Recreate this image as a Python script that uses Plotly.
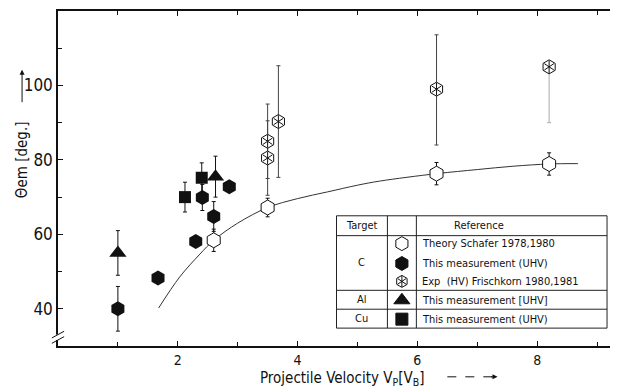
import plotly.graph_objects as go

# ---------------- data ----------------
theory_curve_x = [1.68, 2.03, 2.37, 2.6, 3.0, 3.5, 4.0, 4.5, 5.0, 5.37, 6.32, 7.0, 7.6, 8.2, 8.68]
theory_curve_y = [40.2, 48.5, 54.7, 58.4, 63.0, 67.2, 69.6, 71.4, 73.2, 74.3, 76.3, 77.4, 78.3, 78.9, 79.0]

theory_x = [2.6, 3.5, 6.32, 8.2]
theory_y = [58.4, 67.2, 76.3, 78.9]
theory_err = [3, 2.5, 3, 3]

c_meas_x = [1.0, 1.67, 2.3, 2.41, 2.6, 2.86]
c_meas_y = [40, 48.3, 58.1, 69.9, 64.8, 72.8]
c_meas_err = [6, 0, 0, 3.5, 4, 0]

al_x = [1.0, 2.63]
al_y = [55, 75.5]
al_err = [6, 5.5]

cu_x = [2.12, 2.4]
cu_y = [70, 75.2]
cu_err = [4, 4]

exp_x = [3.5, 3.5, 3.68, 6.32]
exp_y = [80.5, 85, 90.3, 99]
exp_err_plus = [10, 10, 15, 14.6]
exp_err_minus = [10, 10, 15, 15]

exp2_x = [8.2]
exp2_y = [105]
exp2_err_minus = [15]

x_ticks = [2, 4, 6, 8]
x_minor = [1, 3, 5, 7, 9]
y_ticks = [40, 60, 80, 100]
y_minor = [50, 70, 90, 110]

table_targets = ["C", "Al", "Cu"]
table_refs = ["Theory Schafer 1978,1980", "This measurement (UHV)",
              "Exp  (HV) Frischkorn 1980,1981", "This measurement [UHV]",
              "This measurement (UHV)"]

FONT = "DejaVu Sans Condensed, Liberation Sans Narrow, Arial Narrow, DejaVu Sans, sans-serif"
BLACK = "#111111"

fig = go.Figure()

# theory curve
fig.add_trace(go.Scatter(x=theory_curve_x, y=theory_curve_y, mode="lines",
                         line=dict(color="#333333", width=1, shape="spline"),
                         hoverinfo="skip"))

def errbar(plus, minus=None, color=BLACK):
    d = dict(type="data", array=plus, color=color, thickness=1, width=2, visible=True)
    if minus is not None:
        d["symmetric"] = False
        d["arrayminus"] = minus
    return d

# Exp HV points (hexagon with spokes)
fig.add_trace(go.Scatter(x=exp_x, y=exp_y, mode="markers",
                         error_y=errbar(exp_err_plus, exp_err_minus, "#444444"),
                         marker=dict(symbol="hexagon", size=14, color="white",
                                     line=dict(color=BLACK, width=1))))
fig.add_trace(go.Scatter(x=exp2_x, y=exp2_y, mode="markers",
                         error_y=errbar([0], exp2_err_minus, "#aaaaaa"),
                         marker=dict(symbol="hexagon", size=14, color="white",
                                     line=dict(color=BLACK, width=1))))
for sym in ["y-up-open", "y-down-open"]:
    fig.add_trace(go.Scatter(x=exp_x + exp2_x, y=exp_y + exp2_y, mode="markers",
                             marker=dict(symbol=sym, size=8, color=BLACK,
                                         line=dict(color=BLACK, width=1)),
                             hoverinfo="skip"))

# theory points (open hexagon)
fig.add_trace(go.Scatter(x=theory_x, y=theory_y, mode="markers",
                         error_y=errbar(theory_err),
                         marker=dict(symbol="hexagon", size=15, color="white",
                                     line=dict(color=BLACK, width=1))))

# C this measurement
fig.add_trace(go.Scatter(x=c_meas_x, y=c_meas_y, mode="markers",
                         error_y=errbar(c_meas_err),
                         marker=dict(symbol="hexagon", size=15, color=BLACK,
                                     line=dict(color=BLACK, width=0))))
# Al
fig.add_trace(go.Scatter(x=al_x, y=al_y, mode="markers",
                         error_y=errbar(al_err),
                         marker=dict(symbol="triangle-up", size=15, color=BLACK,
                                     line=dict(width=0))))
# Cu
fig.add_trace(go.Scatter(x=cu_x, y=cu_y, mode="markers",
                         error_y=errbar(cu_err),
                         marker=dict(symbol="square", size=12, color=BLACK,
                                     line=dict(width=0))))

# ---------------- legend table ----------------
tx0, tc1, tc2, tx1 = 0.5, 0.5914, 0.6434, 0.9857
ty_top, ty_head, ty_c, ty_al, ty_cu = 0.3887, 0.3294, 0.1662, 0.1098, 0.0534
row_y = [0.3056, 0.2463, 0.1929, 0.1365, 0.0801]
sym_x = (tc1 + tc2) / 2

shapes = []
line_style = dict(color="#222222", width=1)
shapes.append(dict(type="rect", xref="paper", yref="paper", x0=tx0, x1=tx1,
                   y0=ty_cu, y1=ty_top, line=line_style, fillcolor="white", layer="below"))
for yy in [ty_head, ty_c, ty_al]:
    shapes.append(dict(type="line", xref="paper", yref="paper", x0=tx0, x1=tx1,
                       y0=yy, y1=yy, line=line_style))
for xx in [tc1, tc2]:
    shapes.append(dict(type="line", xref="paper", yref="paper", x0=xx, x1=xx,
                       y0=ty_cu, y1=ty_top, line=line_style))

# axis break marks
shapes.append(dict(type="rect", xref="paper", yref="paper", x0=-0.004, x1=0.004,
                   y0=0.018, y1=0.034, line=dict(width=0), fillcolor="white"))
for dy in [0.0, 0.016]:
    shapes.append(dict(type="line", xref="paper", yref="paper", x0=-0.011, x1=0.011,
                       y0=0.008 + dy, y1=0.028 + dy, line=dict(color=BLACK, width=1)))

# dashed arrow shaft of x title
shapes.append(dict(type="line", xref="paper", yref="paper", x0=0.699, x1=0.782,
                   y0=-0.092, y1=-0.092, line=dict(color=BLACK, width=1, dash="dash")))

annotations = []
tf = dict(family=FONT, size=11, color=BLACK)

def txt(x, y, text, font, xanchor="center", **kw):
    d = dict(xref="paper", yref="paper", x=x, y=y, text=text, showarrow=False,
             font=font, xanchor=xanchor, yanchor="middle")
    d.update(kw)
    return d

annotations.append(txt((tx0 + tc1) / 2, (ty_top + ty_head) / 2, "Target", tf))
annotations.append(txt(0.7563, (ty_top + ty_head) / 2, "Reference", tf))
target_y = [(ty_head + ty_c) / 2, (ty_c + ty_al) / 2, (ty_al + ty_cu) / 2]
for t, yy in zip(table_targets, target_y):
    annotations.append(txt((tx0 + tc1) / 2, yy, t, tf))
for r, yy in zip(table_refs, row_y):
    annotations.append(txt(tc2 + 0.006, yy, r, tf, xanchor="left"))

# legend symbols on overlay axes
leg_syms = [("hexagon", "white", 14), ("hexagon", BLACK, 14), ("hexagon", "white", 12),
            ("triangle-up", BLACK, 14), ("square", BLACK, 12)]
for (s, c, sz), yy in zip(leg_syms, row_y):
    fig.add_trace(go.Scatter(x=[sym_x], y=[yy], xaxis="x2", yaxis="y2", mode="markers",
                             marker=dict(symbol=s, size=sz, color=c,
                                         line=dict(color=BLACK, width=1)),
                             hoverinfo="skip"))
for sym in ["y-up-open", "y-down-open"]:
    fig.add_trace(go.Scatter(x=[sym_x], y=[row_y[2]], xaxis="x2", yaxis="y2", mode="markers",
                             marker=dict(symbol=sym, size=7, color=BLACK,
                                         line=dict(color=BLACK, width=1)),
                             hoverinfo="skip"))

# axis titles
annotations.append(txt(-0.0645, 0.555, "Θem [deg.]",
                       dict(family=FONT, size=15, color=BLACK), textangle=-90))
annotations.append(dict(xref="paper", yref="paper", x=-0.0645, y=0.825, text="",
                        showarrow=True, arrowhead=2, arrowsize=1, arrowwidth=1,
                        arrowcolor=BLACK, ax=0, ay=34))
annotations.append(txt(0.51, -0.098, "Projectile Velocity V<sub>P</sub>[V<sub>B</sub>]",
                       dict(family=FONT, size=15, color=BLACK)))
annotations.append(dict(xref="paper", yref="paper", x=0.789, y=-0.092, text="",
                        showarrow=True, arrowhead=2, arrowsize=1, arrowwidth=1,
                        arrowcolor=BLACK, ax=-8, ay=0))

# body of the page has an 8px default margin: compensate so the plot area
# lands at the same window pixels as the reference
fig.update_layout(
    width=610, height=379,
    margin=dict(l=50, r=2, t=1, b=41),
    paper_bgcolor="white", plot_bgcolor="white",
    showlegend=False,
    shapes=shapes, annotations=annotations,
    xaxis=dict(range=[0, 9.3], tickvals=x_ticks, ticks="inside", ticklen=5,
               tickcolor=BLACK, showgrid=False, zeroline=False, showline=True,
               linecolor=BLACK, linewidth=1.5, mirror="ticks", ticklabelstandoff=0,
               tickfont=dict(family=FONT, size=14, color=BLACK),
               minor=dict(tickvals=x_minor, ticks="inside", ticklen=4, tickcolor=BLACK)),
    yaxis=dict(range=[30, 120], tickvals=y_ticks, ticks="inside", ticklen=5,
               tickcolor=BLACK, showgrid=False, zeroline=False, showline=True,
               linecolor=BLACK, linewidth=1.5, mirror="ticks",
               tickfont=dict(family=FONT, size=17, color=BLACK),
               minor=dict(tickvals=y_minor, ticks="inside", ticklen=4, tickcolor=BLACK)),
    xaxis2=dict(range=[0, 1], overlaying="x", visible=False, fixedrange=True),
    yaxis2=dict(range=[0, 1], overlaying="y", visible=False, fixedrange=True),
)

fig.write_html("out.html")
